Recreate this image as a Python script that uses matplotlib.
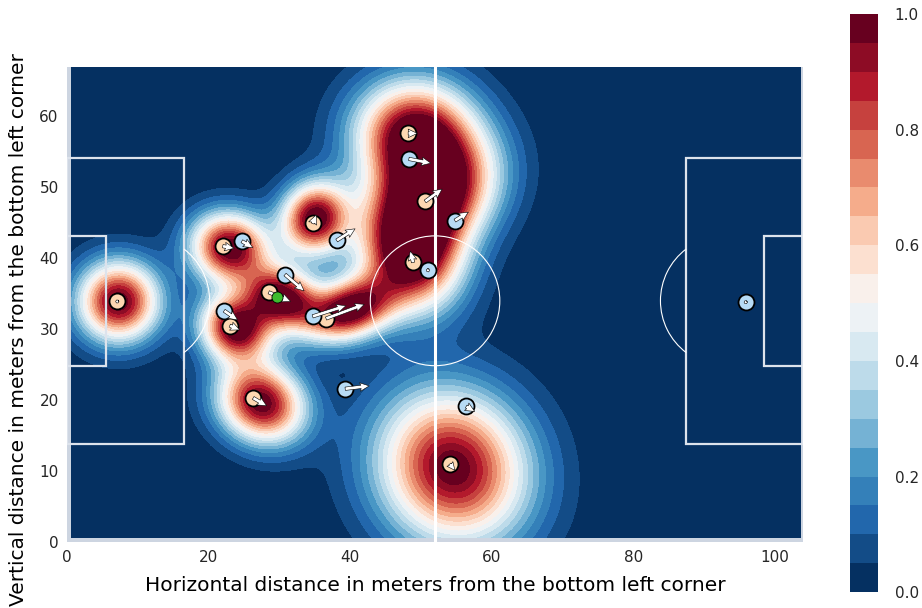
import numpy as np
import matplotlib
matplotlib.use("Agg")
import matplotlib.pyplot as plt
from matplotlib.patches import Rectangle, Circle, Arc

# Pitch dimensions (m)
pitch_length = 104
pitch_width = 68

# Home team (peach): positions, velocity arrows and influence spread
home_x = [7.1, 22.0, 23.0, 28.5, 26.3, 34.7, 36.6, 48.2, 50.6, 48.9, 54.1]
home_y = [33.9, 41.7, 30.5, 35.2, 20.3, 44.9, 31.5, 57.6, 48.0, 39.4, 11.0]
home_vx = [0.3, 1.6, 1.4, 3.1, 1.9, 0.5, 5.4, 1.3, 2.4, -0.4, 0.7]
home_vy = [0.0, -0.3, -0.6, -1.3, -1.1, 1.2, 2.0, 0.0, 1.75, 1.6, -0.9]
home_spread = [3.9, 3.5, 3.2, 3.1, 3.9, 3.3, 3.2, 5.3, 5.3, 5.0, 7.2]

# Away team (light blue)
away_x = [95.9, 24.7, 22.2, 30.8, 38.1, 34.7, 39.3, 48.3, 54.8, 51.0, 56.4]
away_y = [33.8, 42.4, 32.6, 37.7, 42.5, 31.8, 21.6, 54.0, 45.3, 38.3, 19.1]
away_vx = [0.3, 1.55, 1.9, 2.7, 2.6, 4.7, 3.4, 3.1, 1.9, 0.2, 1.2]
away_vy = [0.0, -0.9, -1.3, -2.3, 1.65, 1.5, 0.4, -0.6, 1.2, 0.2, -0.7]

# Ball
ball_x = [29.7]
ball_y = [34.6]

home_color = "#fdd7b1"
away_color = "#b7dbf5"
ball_color = "#3dbb2f"
line_color = "#dde3ec"

plt.rcParams["font.family"] = ["DejaVu Sans"]
plt.rcParams["text.color"] = "#262626"
plt.rcParams["xtick.color"] = "#262626"
plt.rcParams["ytick.color"] = "#262626"

fig = plt.figure(figsize=(9.22, 6.08), dpi=100)
ax = fig.add_axes([0.0727, 0.1086, 0.7983, 0.7817])
cax = fig.add_axes([0.922, 0.026, 0.0304, 0.951])

# Influence surface of the home team (summed, capped at 1)
gx = np.linspace(0.7, 103.7, 420)
gy = np.linspace(0.6, 67.0, 280)
X, Y = np.meshgrid(gx, gy)
total = np.zeros_like(X)
for px, py, vx, vy, s in zip(home_x, home_y, home_vx, home_vy, home_spread):
    speed = np.hypot(vx, vy)
    ux, uy = (vx / speed, vy / speed) if speed > 0 else (1.0, 0.0)
    cx, cy = px + 0.6 * vx, py + 0.6 * vy
    dx, dy = X - cx, Y - cy
    along = dx * ux + dy * uy
    across = -dx * uy + dy * ux
    s_al = s * (1 + 0.06 * speed)
    s_ac = s * (1 - 0.02 * speed)
    total += np.exp(-0.5 * (along ** 2 / s_al ** 2 + across ** 2 / s_ac ** 2))
field = np.clip(total, 0, 1)

# 20 bands from the darkest blue to the darkest red of RdBu_r
levels = np.linspace(0, 1, 21)
base = plt.get_cmap("RdBu_r")
band_colors = [base(i / (len(levels) - 2)) for i in range(len(levels) - 1)]
cf = ax.contourf(X, Y, field, levels=levels, colors=band_colors)
ax.set_facecolor("#cdd5e1")

# Pitch markings
ax.plot([52, 52], [0, pitch_width], color="white", lw=2.2, zorder=3)
ax.add_patch(Circle((52, 34), 9.15, fill=False, ec="white", lw=0.8, zorder=3))
for x0, w in [(0, 16.5), (pitch_length - 16.5, 16.5)]:
    ax.add_patch(Rectangle((x0, 13.84), w, 40.32, fill=False, ec=line_color, lw=1.6, zorder=3))
for x0, w in [(0, 5.5), (pitch_length - 5.5, 5.5)]:
    ax.add_patch(Rectangle((x0, 24.84), w, 18.32, fill=False, ec=line_color, lw=1.6, zorder=3))
ax.add_patch(Arc((11, 34), 18.3, 18.3, theta1=-53, theta2=53, ec="white", lw=0.8, zorder=3))
ax.add_patch(Arc((pitch_length - 11, 34), 18.3, 18.3, theta1=127, theta2=233, ec="white", lw=0.8, zorder=3))

# Players and ball
ax.plot(home_x, home_y, "o", ms=11.5, mfc=home_color, mec="black", mew=1.3, zorder=5)
ax.plot(away_x, away_y, "o", ms=11.5, mfc=away_color, mec="black", mew=1.3, zorder=5)
ax.quiver(home_x + away_x, home_y + away_y, home_vx + away_vx, home_vy + away_vy,
          angles="xy", scale_units="xy", scale=1, color="white", edgecolor="black",
          linewidth=0.4, width=0.0045, headwidth=2.6, headlength=2.8, headaxislength=2.5,
          zorder=6)
ax.plot(ball_x, ball_y, "o", ms=8, mfc=ball_color, mec="black", mew=0.6, zorder=7)

ax.set_xlim(0, pitch_length)
ax.set_ylim(0, 67)
for sp in ax.spines.values():
    sp.set_visible(False)
ax.tick_params(length=0, labelsize=11, pad=6)
ax.set_xticks([0, 20, 40, 60, 80, 100])
ax.set_yticks([0, 10, 20, 30, 40, 50, 60])
ax.set_xlabel("Horizontal distance in meters from the bottom left corner", fontsize=14.5, labelpad=8)
ax.set_ylabel("Vertical distance in meters from the bottom left corner", fontsize=14.5)
ax.yaxis.set_label_coords(-0.053, 0.447)

cb = fig.colorbar(cf, cax=cax)
cb.outline.set_visible(False)
cb.set_ticks([0.0, 0.2, 0.4, 0.6, 0.8, 1.0])
cb.ax.tick_params(length=0, labelsize=11, pad=12)

fig.savefig("out.png", dpi=100)
